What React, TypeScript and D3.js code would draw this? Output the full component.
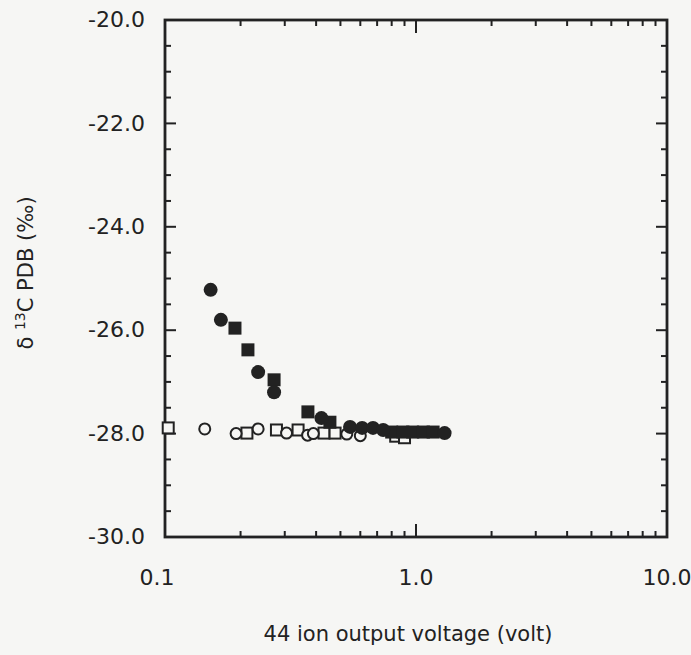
import React from 'react';
import * as d3 from 'd3';

// ---- data ----
const xTickValues = [0.1, 1.0, 10.0];
const xTickLabels = ['0.1', '1.0', '10.0'];
const yTickValues = [-30, -28, -26, -24, -22, -20];
const yTickLabels = ['-30.0', '-28.0', '-26.0', '-24.0', '-22.0', '-20.0'];

const filledCircleX = [0.152, 0.167, 0.235, 0.272, 0.42, 0.546, 0.61, 0.674, 0.74, 1.3];
const filledCircleY = [-25.22, -25.8, -26.81, -27.2, -27.7, -27.87, -27.89, -27.89, -27.93, -27.99];

const filledSquareX = [0.19, 0.214, 0.272, 0.371, 0.454, 0.8, 0.887, 0.97, 1.07, 1.17];
const filledSquareY = [-25.96, -26.38, -26.96, -27.58, -27.78, -27.97, -27.97, -27.97, -27.97, -27.97];

const openCircleX = [0.144, 0.192, 0.235, 0.305, 0.37, 0.39, 0.53, 0.6];
const openCircleY = [-27.91, -28.0, -27.91, -27.99, -28.03, -28.0, -28.01, -28.04];

const openSquareX = [0.103, 0.212, 0.278, 0.339, 0.43, 0.476, 0.83, 0.9];
const openSquareY = [-27.89, -27.99, -27.93, -27.93, -27.99, -27.99, -28.05, -28.08];

const W = 691;
const H = 655;
const M = { left: 165, right: 667, top: 20, bottom: 537 };
const INK = '#222222';
const BG = '#f6f6f4';
const FONT = '"DejaVu Sans", Verdana, sans-serif';

export default function App() {
  const x = d3.scaleLog().domain([0.1, 10]).range([M.left, M.right]);
  const y = d3.scaleLinear().domain([-30, -20]).range([M.bottom, M.top]);

  const xMinor: number[] = [];
  [0.1, 1].forEach((dec) => {
    for (let k = 2; k <= 9; k++) xMinor.push(dec * k);
  });
  const yMinor = d3.range(-29.5, -20, 0.5).filter((v) => Math.abs(v % 2) > 1e-6);
  const yMajor = [-28, -26, -24, -22];

  const minorLen = 6;
  const majorLen = 11;

  const pts = (xs: number[], ys: number[]) => xs.map((v, i) => [x(v), y(ys[i])] as [number, number]);

  return (
    <svg
      width={W}
      height={H}
      style={{ position: 'absolute', left: 0, top: 0, background: BG }}
      fontFamily={FONT}
    >
      <rect x={0} y={0} width={W} height={H} fill={BG} />
      {/* ticks */}
      <g stroke={INK} strokeWidth={2}>
        {xMinor.map((v, i) => (
          <g key={'xm' + i}>
            <line x1={x(v)} x2={x(v)} y1={M.top} y2={M.top + minorLen} />
            <line x1={x(v)} x2={x(v)} y1={M.bottom} y2={M.bottom - minorLen} />
          </g>
        ))}
        <line x1={x(1)} x2={x(1)} y1={M.top} y2={M.top + majorLen + 2} />
        <line x1={x(1)} x2={x(1)} y1={M.bottom} y2={M.bottom - majorLen - 2} />
        {yMinor.map((v, i) => (
          <g key={'ym' + i}>
            <line x1={M.left} x2={M.left + minorLen} y1={y(v)} y2={y(v)} />
            <line x1={M.right} x2={M.right - minorLen} y1={y(v)} y2={y(v)} />
          </g>
        ))}
        {yMajor.map((v, i) => (
          <g key={'yM' + i}>
            <line x1={M.left} x2={M.left + majorLen} y1={y(v)} y2={y(v)} />
            <line x1={M.right} x2={M.right - majorLen} y1={y(v)} y2={y(v)} />
          </g>
        ))}
      </g>
      {/* frame */}
      <rect
        x={M.left}
        y={M.top}
        width={M.right - M.left}
        height={M.bottom - M.top}
        fill="none"
        stroke={INK}
        strokeWidth={2.8}
      />
      {/* tick labels */}
      <g fill={INK} fontSize={22}>
        {yTickValues.map((v, i) => (
          <text key={'yl' + i} x={M.left - 20} y={y(v)} dy="0.33em" textAnchor="end">
            {yTickLabels[i]}
          </text>
        ))}
        {xTickValues.map((v, i) => (
          <text
            key={'xl' + i}
            x={x(v)}
            dx={i === 0 ? -8 : 0}
            y={M.bottom + 48}
            textAnchor="middle"
          >
            {xTickLabels[i]}
          </text>
        ))}
      </g>
      {/* axis titles */}
      <text x={408} y={641} fontSize={21} fill={INK} textAnchor="middle">
        44 ion output voltage (volt)
      </text>
      <text
        transform={`translate(33, 273) rotate(-90)`}
        fontSize={21}
        fill={INK}
        textAnchor="middle"
      >
        δ <tspan fontSize={14} dy={-8}>13</tspan>
        <tspan dy={8}>C PDB (‰)</tspan>
      </text>
      {/* markers: open first */}
      <g fill={BG} stroke={INK} strokeWidth={2}>
        {pts(openSquareX, openSquareY).map(([px, py], i) => (
          <rect key={'os' + i} x={px - 5.5} y={py - 5.5} width={11} height={11} />
        ))}
        {pts(openCircleX, openCircleY).map(([px, py], i) => (
          <circle key={'oc' + i} cx={px} cy={py} r={5.5} />
        ))}
      </g>
      <g fill={INK}>
        {pts(filledSquareX, filledSquareY).map(([px, py], i) => (
          <rect key={'fs' + i} x={px - 6.5} y={py - 6.5} width={13} height={13} />
        ))}
        {pts(filledCircleX, filledCircleY).map(([px, py], i) => (
          <circle key={'fc' + i} cx={px} cy={py} r={7} />
        ))}
      </g>
    </svg>
  );
}
